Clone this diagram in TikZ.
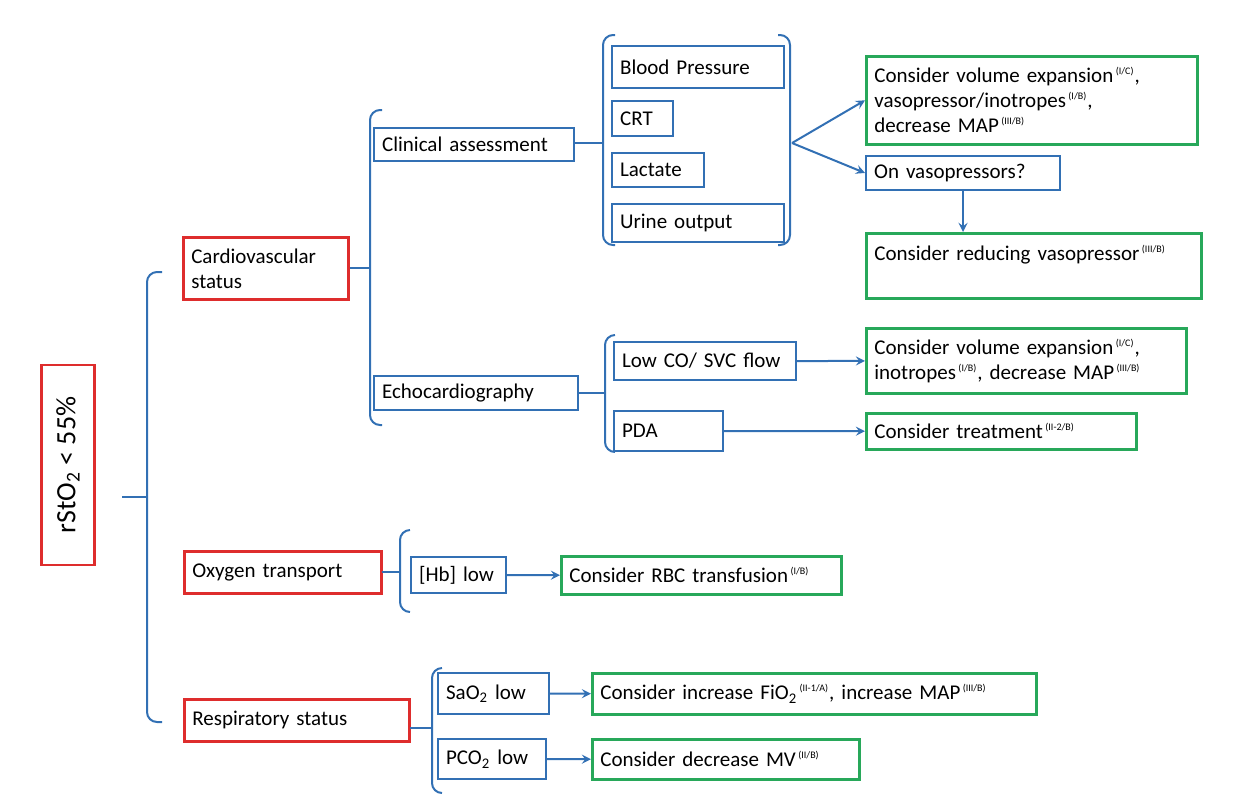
\documentclass[tikz,border=0pt]{standalone}
\usepackage{fontspec}
\setmainfont{Carlito}
\definecolor{cvred}{RGB}{222,45,45}
\definecolor{cvblue}{RGB}{50,112,180}
\definecolor{cvgreen}{RGB}{40,168,90}
\tikzset{
  every node/.style={font=\fontsize{10.5}{12.5}\selectfont, inner sep=4pt, anchor=north west, align=left},
  redbox/.style={draw=cvred, line width=1.3pt},
  bluebox/.style={draw=cvblue, line width=1.1pt},
  greenbox/.style={draw=cvgreen, line width=1.3pt},
  conn/.style={cvblue, line width=1pt},
  arr/.style={conn, -stealth}
}
\newcommand{\grade}[1]{\textsuperscript{\,\fontsize{5}{5}\selectfont(#1)}}
% left bracket: x, top, bottom, middle, tip, hook
\newcommand{\lbrk}[6]{%
  \draw[conn, rounded corners=5] (#6,#2) -| (#1,#4) |- (#6,#3);
  \draw[conn] (#1,#4) -- (#5,#4);}

\begin{document}
\begin{tikzpicture}[x=0.5pt, y=-0.5pt]
  \useasboundingbox (0,0) rectangle (1256,800);

  \node[redbox, anchor=center, rotate=90, minimum width=100pt, minimum height=26.5pt,
        font=\fontsize{14}{16}\selectfont] (rsto) at (68,465) {rStO\textsubscript{2} < 55\%};

  \node[redbox, text width=74.5pt, minimum height=31pt] (cardio) at (182,236) {Cardiovascular\\status};
  \node[redbox, text width=90.5pt, minimum height=21pt] (oxy) at (183,550) {Oxygen transport};
  \node[redbox, text width=104.5pt, minimum height=21pt] (resp) at (183,698) {Respiratory status};

  \node[bluebox, text width=92pt, minimum height=16.5pt] (clin) at (373,127) {Clinical assessment};
  \node[bluebox, text width=94pt, minimum height=16.5pt] (echo) at (373,375) {Echocardiography};

  \node[bluebox, text width=78pt, minimum height=21pt] (bp) at (611,45) {Blood Pressure};
  \node[bluebox, text width=22.5pt, minimum height=17.5pt] (crt) at (611,100) {CRT};
  \node[bluebox, text width=38pt, minimum height=17pt] (lact) at (611,152) {Lactate};
  \node[bluebox, text width=78pt, minimum height=19pt] (urine) at (611,203) {Urine output};

  \node[greenbox, text width=157.5pt, minimum height=44pt] (vol) at (865,55)
    {Consider volume expansion\grade{I/C},\\ vasopressor/inotropes\grade{I/B},\\decrease MAP\grade{III/B}};
  \node[bluebox, text width=89pt, minimum height=16pt] (onvaso) at (865,155) {On vasopressors?};
  \node[greenbox, text width=159.5pt, minimum height=32.5pt] (reduce) at (865,232)
    {Consider reducing vasopressor\grade{III/B}\\ \mbox{}};

  \node[bluebox, text width=83pt, minimum height=19pt] (lowco) at (613,341) {Low CO/ SVC flow};
  \node[bluebox, text width=46.5pt, minimum height=20pt] (pda) at (613,410) {PDA};
  \node[greenbox, text width=152pt, minimum height=32.5pt] (volino) at (865,327)
    {Consider volume expansion\grade{I/C},\\ inotropes\grade{I/B}, decrease MAP\grade{III/B}};
  \node[greenbox, text width=127pt, minimum height=18pt] (treat) at (865,412) {Consider treatment\grade{II-2/B}};

  \node[bluebox, text width=39.5pt, minimum height=18pt] (hb) at (410,556) {[Hb] low};
  \node[greenbox, text width=132pt, minimum height=19pt] (rbc) at (560,555) {Consider RBC transfusion\grade{I/B}};

  \node[bluebox, text width=47.5pt, minimum height=20.5pt] (sao) at (437,672) {SaO\textsubscript{2} low};
  \node[greenbox, text width=214pt, minimum height=20.5pt] (fio) at (591,672)
    {Consider increase FiO\textsubscript{2}\grade{II-1/A}, increase MAP\grade{III/B}};
  \node[bluebox, text width=46pt, minimum height=20pt] (pco) at (437,738) {PCO\textsubscript{2} low};
  \node[greenbox, text width=125.5pt, minimum height=20pt] (mv) at (591,738) {Consider decrease MV\grade{II/B}};

  % brackets
  \lbrk{147}{272}{722}{497}{122}{162}
  \lbrk{370}{110}{425}{268}{350}{382}
  \lbrk{603}{35}{245}{143}{575}{615}
  \lbrk{605}{335}{452}{393}{579}{615}
  \lbrk{400}{530}{612}{572}{382}{410}
  \lbrk{432}{668}{793}{728}{410}{442}
  \draw[conn, rounded corners=5] (778,35) -| (790,143) |- (778,245);
  \coordinate (fork) at (792,143);

  % arrows
  \draw[arr] (fork) -- (vol.west);
  \draw[arr] (fork) -- (onvaso.west);
  \draw[arr] (onvaso.south) -- (onvaso.south |- reduce.north);
  \draw[arr] (lowco) -- (volino);
  \draw[arr] (pda) -- (treat);
  \draw[arr] (hb) -- (rbc);
  \draw[arr] (sao) -- (fio);
  \draw[arr] (pco) -- (mv);
\end{tikzpicture}
\end{document}
